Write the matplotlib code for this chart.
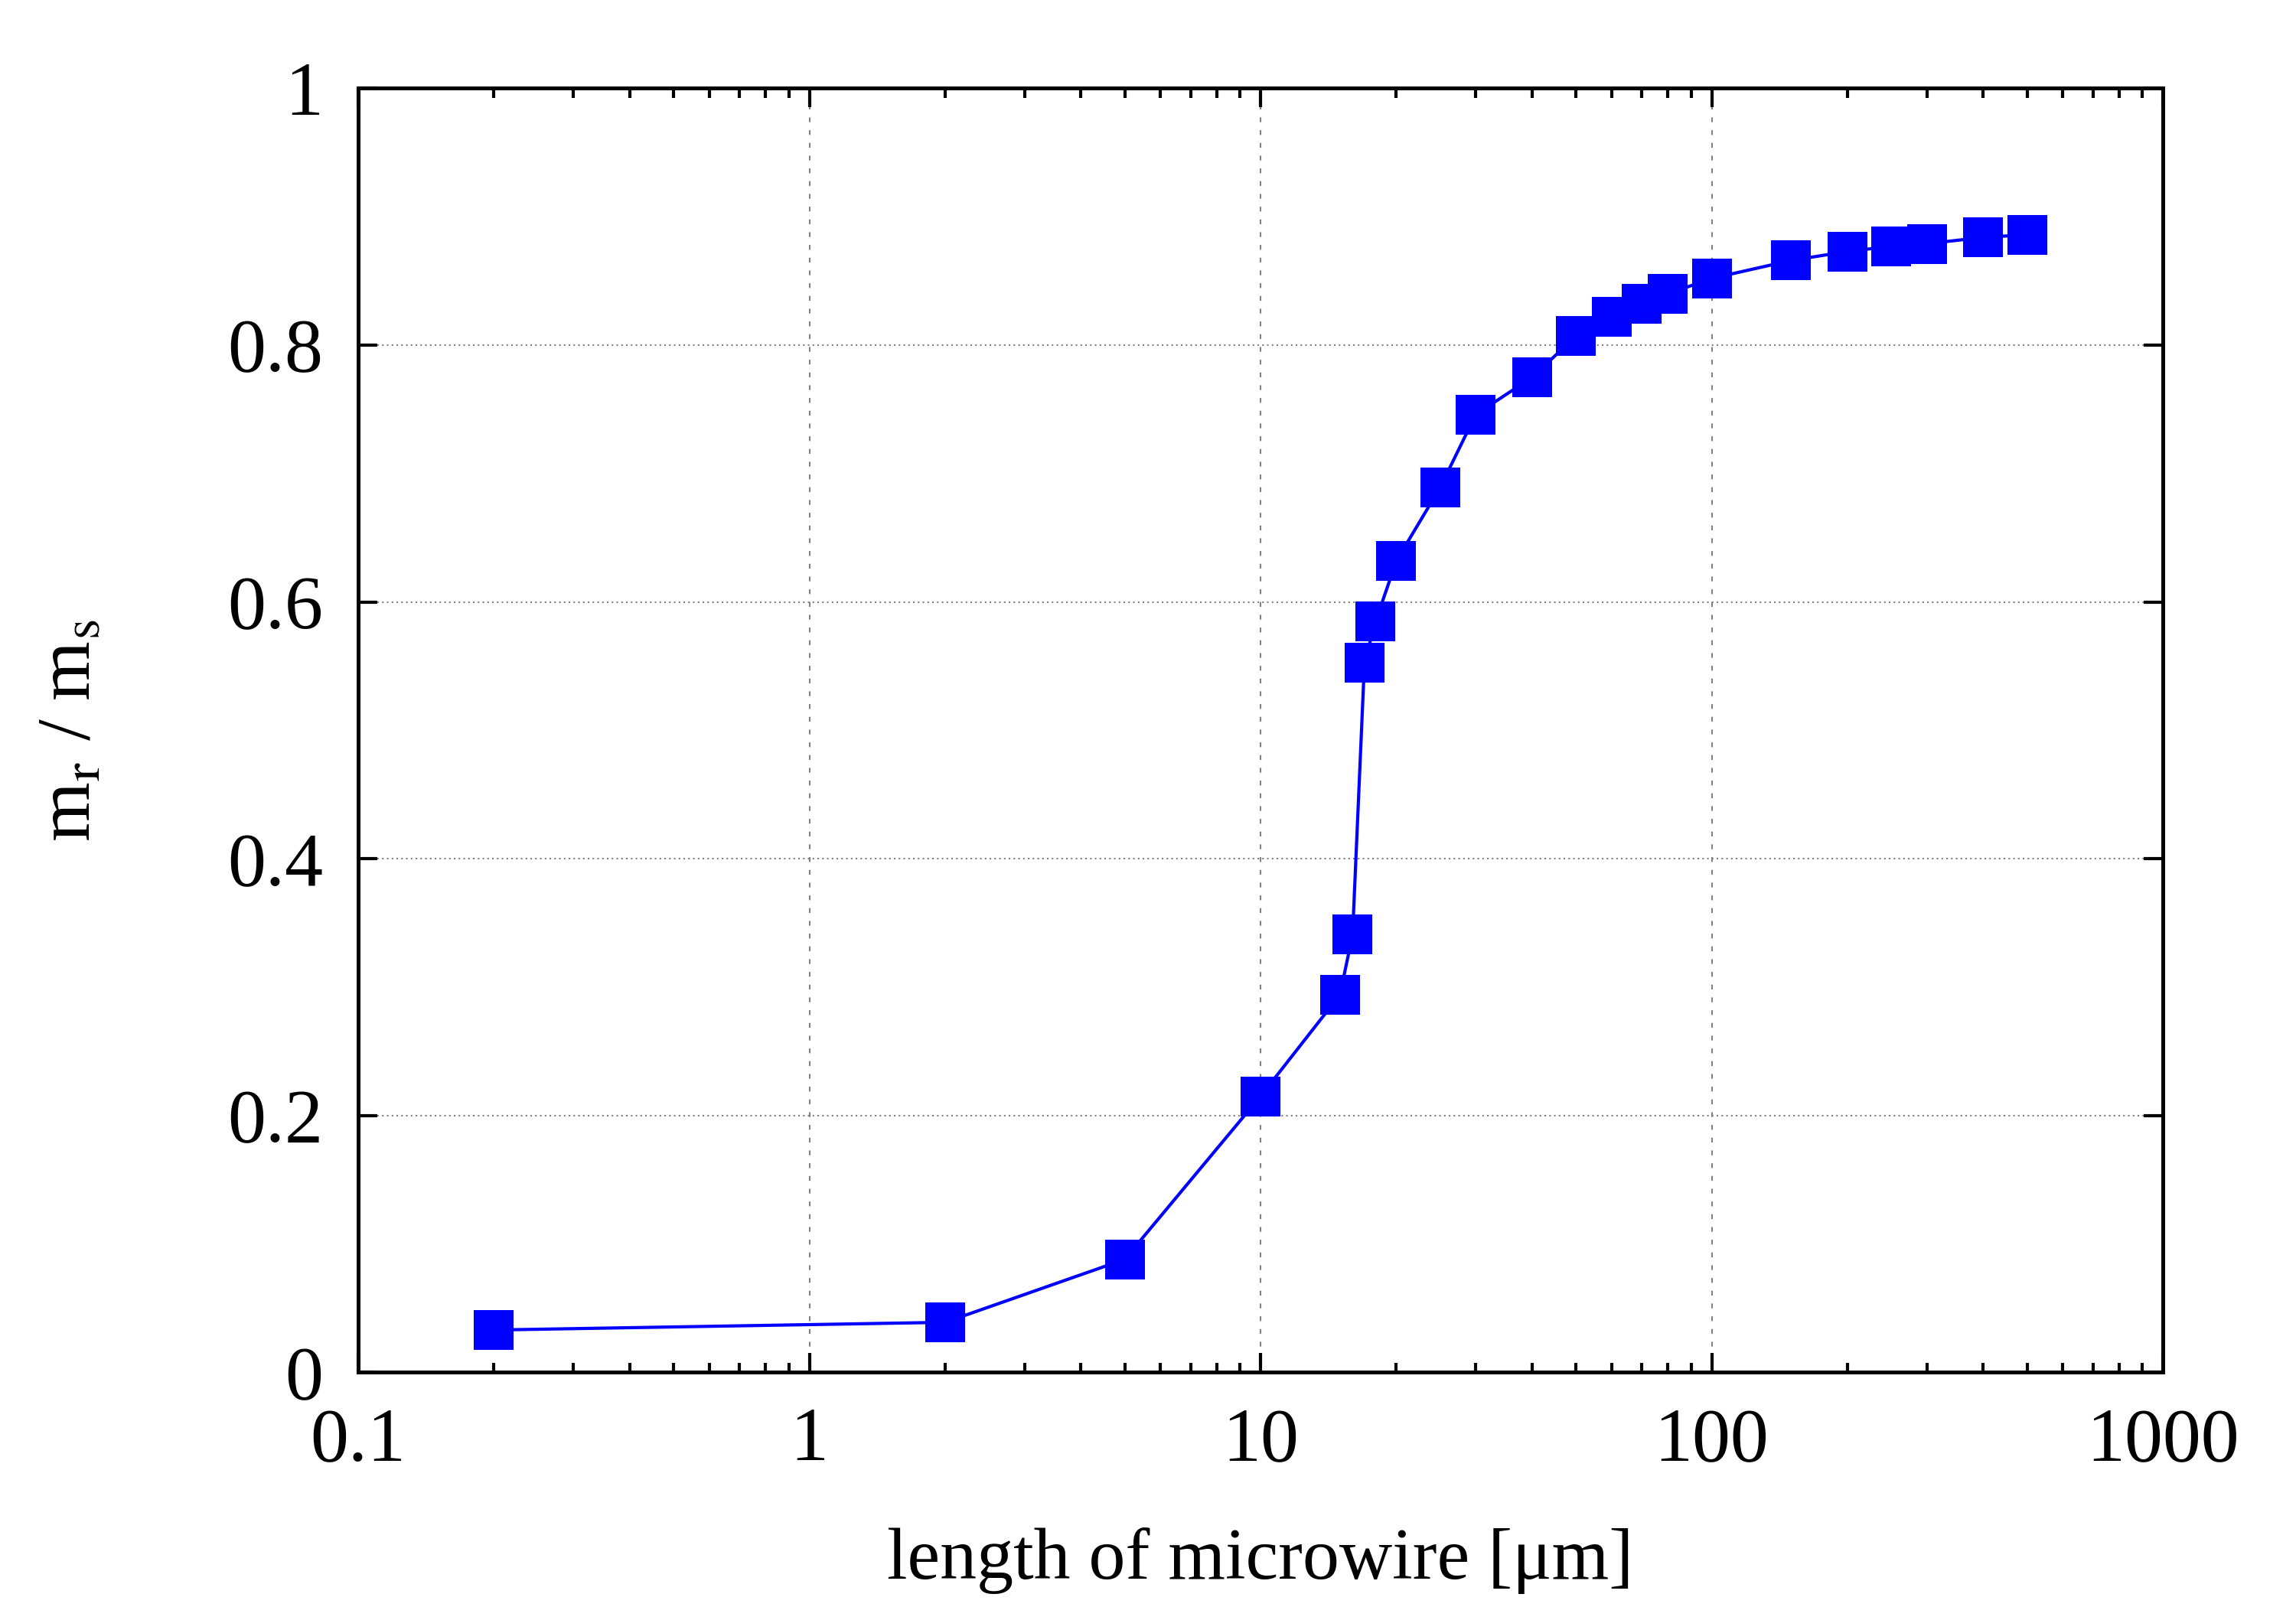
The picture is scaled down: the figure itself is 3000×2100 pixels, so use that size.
import matplotlib
matplotlib.use("Agg")
import matplotlib.pyplot as plt
from matplotlib.ticker import FixedLocator, FuncFormatter, LogLocator, NullFormatter

# length of microwire [um] and remanence ratio
length = [0.2, 2, 5, 10, 15, 16, 17, 18, 20, 25, 30, 40, 50, 60, 70, 80,
          100, 150, 200, 250, 300, 400, 500]
ratio = [0.033, 0.039, 0.088, 0.215, 0.294, 0.341, 0.553, 0.585, 0.632,
         0.689, 0.746, 0.775, 0.807, 0.822, 0.832, 0.840, 0.852, 0.866,
         0.873, 0.877, 0.879, 0.884, 0.886]

plt.rcParams['font.family'] = ['Liberation Serif', 'DejaVu Serif']
plt.rcParams['mathtext.fontset'] = 'stix'

fig = plt.figure(figsize=(10, 7), dpi=300)
ax = fig.add_axes([0.156, 0.146, 0.786, 0.799])

ax.plot(length, ratio, color='#0000ff', lw=1.0, marker='s', ms=12.5,
        markeredgewidth=0, zorder=3)

ax.set_xscale('log')
ax.set_xlim(0.1, 1000)
ax.set_ylim(0, 1)
ax.xaxis.set_major_locator(FixedLocator([0.1, 1, 10, 100, 1000]))
ax.xaxis.set_major_formatter(FuncFormatter(lambda v, p: '%g' % v))
ax.xaxis.set_minor_locator(LogLocator(base=10, subs=range(2, 10), numticks=20))
ax.xaxis.set_minor_formatter(NullFormatter())
ax.set_yticks([0, 0.2, 0.4, 0.6, 0.8, 1.0])
ax.set_yticklabels(['0', '0.2', '0.4', '0.6', '0.8', '1'])

ax.tick_params(which='both', direction='in', top=True, right=True,
               labelsize=24, width=1.0)
ax.tick_params(which='major', length=6, pad=11)
ax.tick_params(which='minor', length=3)
for s in ax.spines.values():
    s.set_linewidth(1.2)

ax.grid(True, which='major', axis='x', color='gray', ls=(0, (3, 5)), lw=0.5)
ax.grid(True, which='major', axis='y', color='gray', ls=(0, (1, 2)), lw=0.5)

ax.set_xlabel('length of microwire [\u03bcm]', fontsize=23, labelpad=16)
ax.set_ylabel(r'm$_\mathrm{r}$ / m$_\mathrm{s}$', fontsize=24, labelpad=38)

fig.savefig('out.png', dpi=300)
